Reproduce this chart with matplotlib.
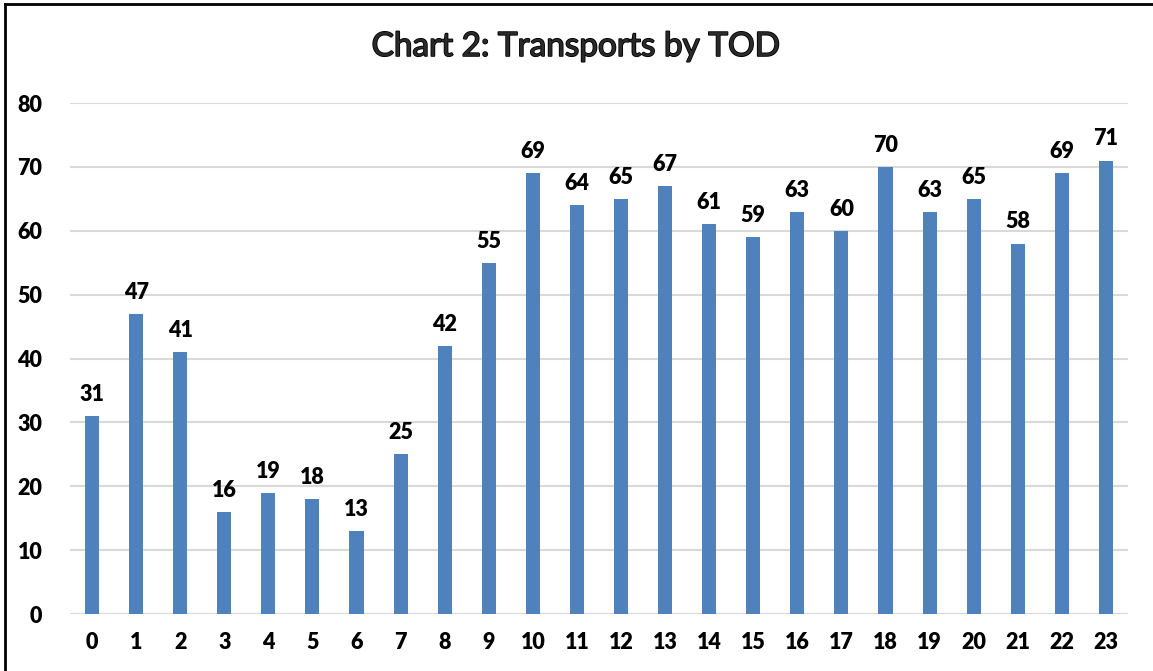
import matplotlib.pyplot as plt
import matplotlib.patheffects as pe
from matplotlib.lines import Line2D

hours = [str(h) for h in range(24)]
transports = [31, 47, 41, 16, 19, 18, 13, 25, 42, 55, 69, 64, 65, 67, 61, 59, 63, 60, 70, 63, 65, 58, 69, 71]
y_ticks = [0, 10, 20, 30, 40, 50, 60, 70, 80]

plt.rcParams['font.family'] = ['Lato', 'DejaVu Sans']

fig = plt.figure(figsize=(11.53, 6.71), dpi=100)
ax = fig.add_axes([0.0607, 0.0849, 0.9176, 0.7615])

x = range(len(hours))
bars = ax.bar(x, transports, width=0.32, color='#4F81BD', zorder=2)
ax.bar_label(bars, padding=8, fontsize=15.5, fontweight='heavy')

ax.set_xlim(-0.5, len(hours) - 0.5)
ax.set_ylim(0, 80)
ax.set_yticks(y_ticks)
ax.set_xticks(list(x))
ax.set_xticklabels(hours)
ax.tick_params(length=0, labelsize=15.5, pad=13)
ax.tick_params(axis='y', pad=20)
for lab in ax.get_xticklabels() + ax.get_yticklabels():
    lab.set_fontweight('heavy')
ax.yaxis.grid(True, color='#D9D9D9', lw=1.5, zorder=0)
for s in ax.spines.values():
    s.set_visible(False)

title = fig.text(0.5, 0.93, 'Chart 2: Transports by TOD', ha='center', va='center',
                 fontsize=24, color='#2a2a2a')
title.set_path_effects([pe.withStroke(linewidth=1.2, foreground='black')])

# chart frame (left and top visible)
fig.add_artist(Line2D([0.0045, 0.0045], [0, 0.9945], color='black', lw=2, transform=fig.transFigure))
fig.add_artist(Line2D([0.0045, 1.0], [0.9945, 0.9945], color='black', lw=2, transform=fig.transFigure))

fig.savefig('out.png')
